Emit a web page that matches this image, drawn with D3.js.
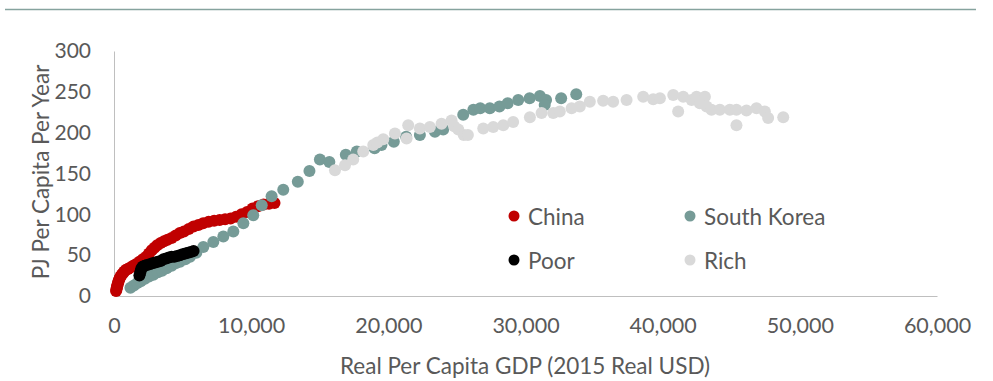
<!DOCTYPE html>
<html>
<head>
<meta charset="utf-8">
<script src="https://cdn.jsdelivr.net/npm/d3@7"></script>
<style>
  body { margin: 0; background: #fff; }
  svg { display: block; font-family: Lato, "Open Sans", sans-serif; }
</style>
</head>
<body>
<script>
// GDP per capita (2015 USD) vs PJ per capita per year
const chinaGDP = [150, 180, 200, 230, 260, 300, 330, 370, 420, 480, 560, 650, 750, 880, 1020, 1200, 1400, 1600, 1850, 2100, 2350, 2550, 2750, 2950, 3150, 3400, 3650, 3900, 4200, 4500, 4800, 5100, 5450, 5800, 6150, 6500, 6900, 7300, 7700, 8100, 8500, 8900, 9300, 9700, 10100, 10500, 10900, 11300, 11700];
const chinaPJ  = [6, 8, 10, 12, 14, 16, 18, 20, 22, 24, 26, 28, 30, 32, 33, 35, 37, 39, 42, 45, 48, 52, 56, 59, 62, 65, 67, 69, 71, 74, 77, 79, 82, 85, 87, 89, 91, 92, 93, 94, 95, 97, 100, 103, 107, 110, 112, 113, 114];

const koreaGDP = [1200, 1450, 1700, 1950, 2250, 2550, 2870, 3200, 3500, 3840, 4200, 4500, 4810, 5200, 5540, 6000, 6510, 7240, 7970, 8700, 9430, 10150, 10770, 11490, 12340, 13400, 14250, 15010, 15700, 16900, 17700, 19000, 19500, 20400, 21300, 22300, 23400, 24000, 25460, 26200, 26700, 27400, 28100, 28700, 29470, 30300, 31050, 31500, 31400, 32600, 33700];
const koreaPJ  = [10, 13, 16, 18, 21, 24, 26, 29, 31, 34, 37, 40, 42, 45, 48, 53, 60, 66, 73, 79, 89, 99, 111, 122, 130, 140, 153, 167, 164, 173, 177, 181, 185, 189, 195, 197, 201, 204, 222, 228, 230, 230, 232, 236, 240, 242, 245, 240, 234, 242, 247];

const poorGDP = [1850, 1900, 1950, 2000, 2100, 2250, 2400, 2600, 2800, 3000, 3200, 3400, 3600, 3800, 4000, 4200, 4400, 4600, 4800, 5000, 5200, 5400, 5600, 5800];
const poorPJ  = [25, 28, 31, 34, 36, 37, 38, 39, 40, 41, 42, 43, 45, 46, 47, 48, 48, 49, 50, 51, 52, 53, 54, 55];

const richGDP = [16110, 16840, 17440, 18170, 18900, 19200, 19630, 20480, 21330, 21450, 22300, 23030, 23880, 24610, 24800, 25100, 25500, 25800, 26920, 27650, 28380, 29100, 30320, 31170, 32020, 32500, 33360, 33960, 34690, 35660, 36390, 37370, 38580, 39310, 39800, 40770, 41130, 41500, 42110, 42470, 42710, 43080, 43200, 43560, 44170, 44900, 45380, 45380, 46110, 46840, 47450, 47690, 48790];
const richPJ  = [154, 160, 167, 177, 185, 188, 192, 199, 193, 209, 205, 207, 211, 215, 208, 204, 197, 197, 205, 207, 209, 213, 219, 224, 224, 226, 230, 232, 238, 239, 238, 240, 244, 241, 242, 246, 226, 244, 240, 244, 236, 244, 232, 228, 228, 228, 209, 228, 227, 230, 226, 218, 219];

const xTicks = [0, 10000, 20000, 30000, 40000, 50000, 60000];
const yTicks = [0, 50, 100, 150, 200, 250, 300];

const seriesNames = ['China', 'South Korea', 'Poor', 'Rich'];
const seriesColors = ['#c00000', '#769b97', '#000000', '#d9d9d9'];

const series = [
  { name: seriesNames[0], color: seriesColors[0], pts: d3.zip(chinaGDP, chinaPJ) },
  { name: seriesNames[1], color: seriesColors[1], pts: d3.zip(koreaGDP, koreaPJ) },
  { name: seriesNames[2], color: seriesColors[2], pts: d3.zip(poorGDP, poorPJ) },
  { name: seriesNames[3], color: seriesColors[3], pts: d3.zip(richGDP, richPJ) }
];

const width = 993, height = 381;
const textColor = '#595959';

const svg = d3.select('body').append('svg')
  .attr('width', width)
  .attr('height', height);

// top rule
svg.append('line')
  .attr('x1', 5).attr('x2', 976)
  .attr('y1', 9.5).attr('y2', 9.5)
  .attr('stroke', '#86a39e')
  .attr('stroke-width', 1.5);

const x = d3.scaleLinear().domain([0, 60000]).range([114, 937]);
const y = d3.scaleLinear().domain([0, 300]).range([296, 51]);

// x axis
const xAxis = svg.append('g')
  .attr('transform', `translate(0,${y(0)})`)
  .call(d3.axisBottom(x).tickValues(xTicks).tickSize(0).tickPadding(22).tickFormat(d3.format(',')));
xAxis.select('.domain').attr('stroke', '#bfbfbf');
xAxis.selectAll('text').attr('fill', textColor).attr('font-size', 21.5).attr('font-family', 'Lato, sans-serif');

// y axis
const yAxis = svg.append('g')
  .attr('transform', `translate(${x(0)},0)`)
  .call(d3.axisLeft(y).tickValues(yTicks).tickSize(0).tickPadding(23));
yAxis.select('.domain').attr('stroke', '#bfbfbf');
yAxis.selectAll('text').attr('fill', textColor).attr('font-size', 21).attr('font-family', 'Lato, sans-serif');

// axis titles
svg.append('text')
  .attr('x', 525).attr('y', 374)
  .attr('text-anchor', 'middle')
  .attr('fill', textColor)
  .attr('font-size', 22.5)
  .text('Real Per Capita GDP (2015 Real USD)');

svg.append('text')
  .attr('transform', `translate(40,172) rotate(-90)`)
  .attr('text-anchor', 'middle')
  .attr('dominant-baseline', 'central')
  .attr('fill', textColor)
  .attr('font-size', 22.5)
  .text('PJ Per Capita Per Year');

// points
series.forEach(s => {
  svg.append('g')
    .selectAll('circle')
    .data(s.pts)
    .join('circle')
    .attr('cx', d => x(d[0]))
    .attr('cy', d => y(d[1]))
    .attr('r', 6)
    .attr('fill', s.color);
});

// legend
const legendPos = [[514, 216], [690, 216], [514, 260], [690, 260]];
series.forEach((s, i) => {
  const g = svg.append('g').attr('transform', `translate(${legendPos[i][0]},${legendPos[i][1]})`);
  g.append('circle').attr('r', 5.5).attr('fill', s.color);
  g.append('text')
    .attr('x', 14)
    .attr('dominant-baseline', 'central')
    .attr('fill', textColor)
    .attr('font-size', 22.5)
    .text(s.name);
});
</script>
</body>
</html>
